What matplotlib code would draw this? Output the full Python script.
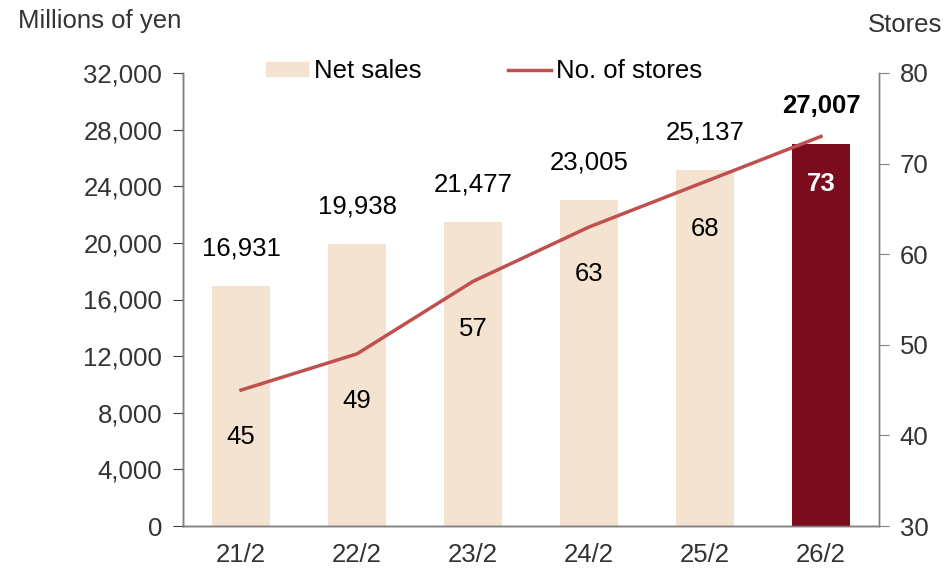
import matplotlib
matplotlib.use("Agg")
import matplotlib.pyplot as plt

plt.rcParams['font.family'] = ['Liberation Sans', 'DejaVu Sans']

categories = ["21/2", "22/2", "23/2", "24/2", "25/2", "26/2"]
net_sales = [16931, 19938, 21477, 23005, 25137, 27007]
stores = [45, 49, 57, 63, 68, 73]

bar_color = "#F5E3D1"
hi_color = "#7B0C1E"
line_color = "#C0504D"
text_gray = "#333333"
FS = 18.5

fig = plt.figure(figsize=(9.5, 5.71), dpi=100)
ax = fig.add_axes([183/950, 1-526/571, (879-183)/950, (526-73)/571])
ax2 = ax.twinx()

x = list(range(len(categories)))
colors = [bar_color]*(len(categories)-1) + [hi_color]
ax.bar(x, net_sales, width=0.5, color=colors, zorder=2)
ax.set_xlim(-0.5, len(categories)-0.5)
ax.set_ylim(0, 32000)
ax.set_yticks(range(0, 32001, 4000))
ax.set_yticklabels([f"{v:,}" for v in range(0, 32001, 4000)])
ax.set_xticks(x)
ax.set_xticklabels(categories)

ax2.plot(x, stores, color=line_color, lw=2.5, zorder=3)
ax2.set_ylim(30, 80)
ax2.set_yticks(range(30, 81, 10))

for a in (ax, ax2):
    a.spines['top'].set_visible(False)
    for s in ['left', 'right', 'bottom']:
        a.spines[s].set_color('#808080')
        a.spines[s].set_linewidth(1)
ax.spines['left'].set_color('#404040')
ax.spines['bottom'].set_color('#404040')
ax.tick_params(axis='y', labelsize=FS, colors='#404040', length=7, pad=8)
ax.tick_params(axis='x', labelsize=FS, length=0, pad=12)
ax2.tick_params(axis='y', labelsize=FS, colors='#808080', length=7, pad=8)
for lab in ax.get_yticklabels() + ax.get_xticklabels() + ax2.get_yticklabels():
    lab.set_color(text_gray)

ax.set_zorder(ax2.get_zorder() - 1)
ax.patch.set_visible(False)

for i, v in enumerate(net_sales):
    last = i == len(net_sales) - 1
    ax.annotate(f"{v:,}", (i, v), xytext=(0, 27), textcoords='offset points',
                ha='center', va='center', fontsize=FS,
                fontweight='bold' if last else 'normal', color='black')
for i, v in enumerate(stores):
    last = i == len(stores) - 1
    ax2.annotate(f"{v}", (i, v), xytext=(0, -34), textcoords='offset points',
                 ha='center', va='center', fontsize=FS,
                 fontweight='bold' if last else 'normal',
                 color='white' if last else 'black')

fig.text(18/950, 1-21/571, "Millions of yen", fontsize=FS, color=text_gray, ha='left', va='center')
fig.text(942/950, 1-25/571, "Stores", fontsize=FS, color=text_gray, ha='right', va='center')

from matplotlib.patches import Patch
from matplotlib.lines import Line2D
handles = [Patch(color=bar_color), Line2D([0], [0], color=line_color, lw=2.5)]
fig.legend(handles, ["Net sales", "No. of stores"], loc='center',
           bbox_to_anchor=(484/950, 1-71/571), ncol=2, frameon=False, fontsize=FS,
           handlelength=1.65, handleheight=0.5, handletextpad=0.2, columnspacing=3.4)

fig.savefig("out.png", dpi=100)
